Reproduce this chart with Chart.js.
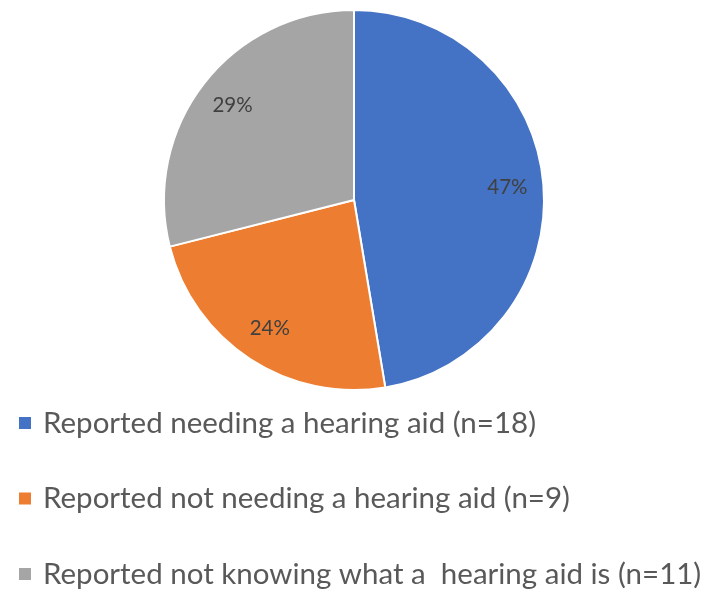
<!DOCTYPE html>
<html>
<head>
<meta charset="utf-8">
<script src="https://cdn.jsdelivr.net/npm/chart.js@4/dist/chart.umd.min.js"></script>
<style>
  html, body { margin: 0; padding: 0; background: #ffffff; }
  #wrap { position: relative; width: 710px; height: 593px; }
</style>
</head>
<body>
<div id="wrap"><canvas id="c" width="710" height="593"></canvas></div>
<script>
const categories = [
  "Reported needing a hearing aid (n=18)",
  "Reported not needing a hearing aid (n=9)",
  "Reported not knowing what a  hearing aid is (n=11)"
];
const counts = [18, 9, 11];
const percentLabels = ["47%", "24%", "29%"];
const colors = ["#4472C4", "#ED7D31", "#A5A5A5"];

const FONT = "Lato, 'Open Sans', sans-serif";

const sliceLabels = {
  id: "sliceLabels",
  afterDatasetsDraw(chart) {
    const ctx = chart.ctx;
    const meta = chart.getDatasetMeta(0);
    ctx.save();
    ctx.font = "20.5px " + FONT;
    ctx.fillStyle = "#404040";
    ctx.textAlign = "center";
    ctx.textBaseline = "middle";
    meta.data.forEach((arc, i) => {
      const p = arc.getProps(["x", "y", "startAngle", "endAngle", "outerRadius"], true);
      const mid = (p.startAngle + p.endAngle) / 2;
      const r = p.outerRadius * 0.81;
      ctx.fillText(percentLabels[i], p.x + Math.cos(mid) * r, p.y + Math.sin(mid) * r);
    });
    ctx.restore();
  }
};

const sideLegend = {
  id: "sideLegend",
  afterDraw(chart) {
    const ctx = chart.ctx;
    const area = chart.chartArea;
    ctx.save();
    ctx.font = "29.5px " + FONT;
    ctx.textAlign = "left";
    ctx.textBaseline = "middle";
    categories.forEach((label, i) => {
      const cy = area.bottom + 32 + i * 75.5;
      ctx.fillStyle = colors[i];
      ctx.fillRect(19, cy - 6, 12, 12);
      ctx.fillStyle = "#595959";
      ctx.fillText(label, 43, cy);
    });
    ctx.restore();
  }
};

new Chart(document.getElementById("c"), {
  type: "pie",
  data: {
    labels: categories,
    datasets: [{
      data: counts,
      backgroundColor: colors,
      borderColor: "#ffffff",
      borderWidth: 2
    }]
  },
  options: {
    responsive: false,
    animation: false,
    layout: { padding: { top: 9, bottom: 202, left: 0, right: 2 } },
    plugins: {
      legend: { display: false },
      tooltip: { enabled: false }
    }
  },
  plugins: [sliceLabels, sideLegend]
});
</script>
</body>
</html>
